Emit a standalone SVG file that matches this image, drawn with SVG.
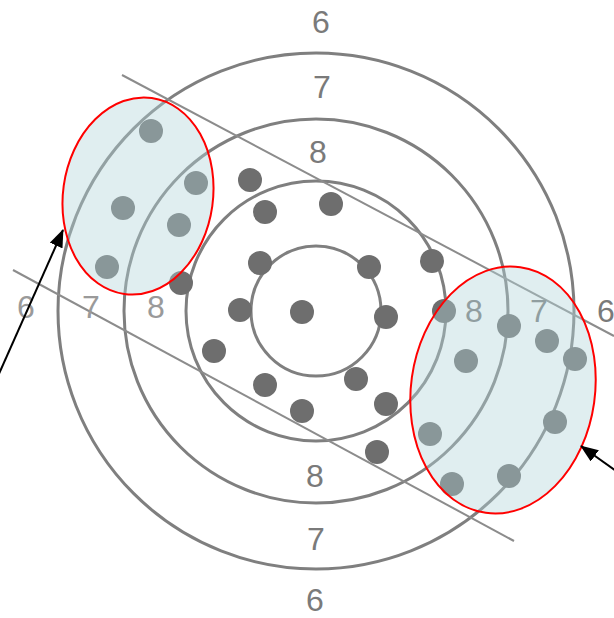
<svg xmlns="http://www.w3.org/2000/svg" width="614" height="618" viewBox="0 0 614 618">
<style>
.ring{fill:none;stroke:#7f7f7f;stroke-width:3}
.cut{fill:none;stroke:#8c8c8c;stroke-width:2}
.dot{fill:#6e6e6e}
.lab{font-family:"Liberation Sans",Arial,sans-serif;font-size:32px;fill:#7a7a7a;text-anchor:middle}
.lab2{fill:#9a9a9a}
.zone{fill:rgb(177,212,217);fill-opacity:0.4;stroke:#ff0000;stroke-width:2}
.arr{stroke:#000;stroke-width:2;fill:none}
</style>
<defs>
<marker id="ah" viewBox="0 0 18 14" refX="17" refY="7" markerWidth="18" markerHeight="14" markerUnits="userSpaceOnUse" orient="auto">
<path d="M0,0 L18,7 L0,14 z" fill="#000"/>
</marker>
</defs>
<rect width="614" height="618" fill="#ffffff"/>
<g id="rings">
<circle class="ring" cx="316" cy="311" r="65"/>
<circle class="ring" cx="316" cy="311" r="130"/>
<circle class="ring" cx="316" cy="311" r="192"/>
<circle class="ring" cx="316" cy="311" r="258"/>
</g>
<g id="bounds">
<line class="cut" x1="122" y1="75" x2="614" y2="336"/>
<line class="cut" x1="13" y1="270" x2="514" y2="541"/>
</g>
<g id="labels">
<text class="lab" x="321" y="33">6</text>
<text class="lab" x="322" y="98">7</text>
<text class="lab" x="318" y="163">8</text>
<text class="lab" x="315" y="487">8</text>
<text class="lab" x="316" y="550">7</text>
<text class="lab" x="315" y="611">6</text>
<text class="lab lab2" x="26" y="318">6</text>
<text class="lab lab2" x="91" y="318">7</text>
<text class="lab lab2" x="156" y="318">8</text>
<text class="lab" x="474" y="322">8</text>
<text class="lab" x="539" y="322">7</text>
<text class="lab" x="606" y="322">6</text>
</g>
<g id="hits">
<circle class="dot" cx="302" cy="312" r="12"/>
<circle class="dot" cx="250" cy="180" r="12"/>
<circle class="dot" cx="265" cy="212" r="12"/>
<circle class="dot" cx="331" cy="204" r="12"/>
<circle class="dot" cx="260" cy="263" r="12"/>
<circle class="dot" cx="369" cy="267" r="12"/>
<circle class="dot" cx="432" cy="261" r="12"/>
<circle class="dot" cx="240" cy="310" r="12"/>
<circle class="dot" cx="386" cy="317" r="12"/>
<circle class="dot" cx="444" cy="311" r="12"/>
<circle class="dot" cx="181" cy="283" r="12"/>
<circle class="dot" cx="214" cy="351" r="12"/>
<circle class="dot" cx="265" cy="385" r="12"/>
<circle class="dot" cx="302" cy="411" r="12"/>
<circle class="dot" cx="356" cy="379" r="12"/>
<circle class="dot" cx="386" cy="404" r="12"/>
<circle class="dot" cx="377" cy="452" r="12"/>
<circle class="dot" cx="151" cy="131" r="12"/>
<circle class="dot" cx="196" cy="183" r="12"/>
<circle class="dot" cx="123" cy="208" r="12"/>
<circle class="dot" cx="179" cy="225" r="12"/>
<circle class="dot" cx="107" cy="267" r="12"/>
<circle class="dot" cx="466" cy="361" r="12"/>
<circle class="dot" cx="509" cy="326" r="12"/>
<circle class="dot" cx="547" cy="341" r="12"/>
<circle class="dot" cx="575" cy="359" r="12"/>
<circle class="dot" cx="430" cy="434" r="12"/>
<circle class="dot" cx="555" cy="422" r="12"/>
<circle class="dot" cx="452" cy="484" r="12"/>
<circle class="dot" cx="509" cy="476" r="12"/>
</g>
<g id="zone-left">
<ellipse class="zone" cx="0" cy="0" rx="75" ry="99" transform="translate(138 196) rotate(8)"/>
</g>
<g id="zone-right">
<ellipse class="zone" cx="0" cy="0" rx="92" ry="124" transform="translate(503 390) rotate(8)"/>
</g>
<g id="connectors">
<line class="arr" x1="-2" y1="376" x2="63" y2="230" marker-end="url(#ah)"/>
<line class="arr" x1="616" y1="471" x2="581" y2="446" marker-end="url(#ah)"/>
</g>
</svg>
